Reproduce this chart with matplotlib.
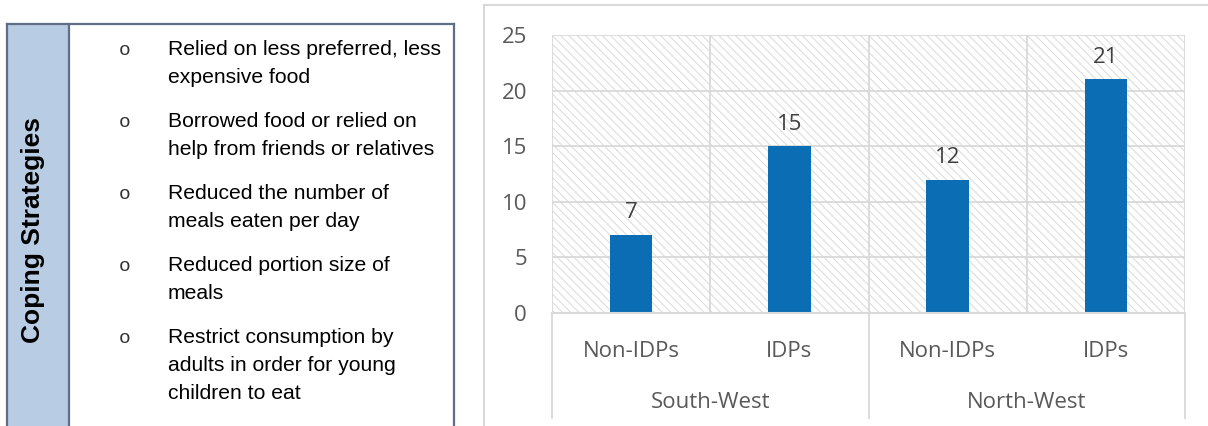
import matplotlib
matplotlib.use("Agg")
import matplotlib.pyplot as plt
from matplotlib.patches import Rectangle
from matplotlib.lines import Line2D
import matplotlib.transforms as mtransforms

# data
groups = ["South-West", "North-West"]
categories = ["Non-IDPs", "IDPs", "Non-IDPs", "IDPs"]
values = [7, 15, 12, 21]
y_ticks = [0, 5, 10, 15, 20, 25]

panel_title = "Coping Strategies"
strategies = [
    ["Relied on less preferred, less", "expensive food"],
    ["Borrowed food or relied on", "help from friends or relatives"],
    ["Reduced the number of", "meals eaten per day"],
    ["Reduced portion size of", "meals"],
    ["Restrict consumption by", "adults in order for young", "children to eat"],
]

W, H = 1208, 426
fig = plt.figure(figsize=(W / 100, H / 100), dpi=100)


def fx(x):
    return x / W


def fy(y):
    return 1 - y / H


# ---- left panel (table-like box) ----
border = "#5f6e84"
fig.add_artist(Rectangle((fx(7), fy(440)), fx(62), (440 - 24) / H,
                         facecolor="#b8cce4", edgecolor="none"))
for (x0, y0, x1, y1) in [(7, 24, 454, 24), (7, 24, 7, 440), (69, 24, 69, 440), (454, 24, 454, 440)]:
    fig.add_artist(Line2D([fx(x0), fx(x1)], [fy(y0), fy(y1)], color=border, lw=1.6))

fig.text(fx(33), fy(230), panel_title, rotation=90, ha="center", va="center",
         fontsize=19, fontweight="bold", family="Liberation Sans", color="black")

y = 55
for item in strategies:
    fig.text(fx(125), fy(y), "o", ha="center", va="baseline", fontsize=14,
             family="Liberation Mono", color="#333333")
    for line in item:
        fig.text(fx(168), fy(y), line, ha="left", va="baseline", fontsize=15.2,
                 family="Liberation Sans", color="black")
        y += 28
    y += 16

# ---- chart frame ----
frame = "#d9d9d9"
fig.add_artist(Line2D([fx(484), fx(1208)], [fy(5), fy(5)], color=frame, lw=1.5))
fig.add_artist(Line2D([fx(484), fx(484)], [fy(5), fy(426)], color=frame, lw=1.5))

# ---- bar chart ----
ax = fig.add_axes([fx(552), fy(313), fx(1185 - 552), (313 - 35) / H])
ax.set_xlim(0, 4)
ax.set_ylim(0, 25)

plt.rcParams["hatch.linewidth"] = 0.7
bg = Rectangle((0, 0), 1, 1, transform=ax.transAxes, facecolor="white",
               edgecolor="#dadada", hatch="\\\\\\\\", lw=0, zorder=0)
ax.add_patch(bg)

for t in y_ticks[1:]:
    ax.axhline(t, color=frame, lw=1.3, zorder=1)
for i in range(5):
    ax.axvline(i, color=frame, lw=1.3, zorder=1)
ax.axhline(0, color=frame, lw=1.5, zorder=3, clip_on=False)

xs = [i + 0.5 for i in range(len(values))]
ax.bar(xs, values, width=0.27, color="#0b6db4", zorder=2)
for x, v in zip(xs, values):
    ax.annotate(str(v), (x, v), xytext=(0, 12), textcoords="offset points",
                ha="center", va="baseline", fontsize=16, family="Open Sans",
                color="#404040")

for s in ax.spines.values():
    s.set_visible(False)
ax.set_xticks([])
ax.set_yticks(y_ticks)
ax.set_yticklabels([str(t) for t in y_ticks], fontsize=16, family="Open Sans",
                   color="#595959")
ax.tick_params(axis="y", length=0, pad=18)

# category labels under the axis
trans = mtransforms.blended_transform_factory(ax.transData, fig.transFigure)
for x, c in zip(xs, categories):
    ax.text(x, fy(357), c, transform=trans, ha="center", va="baseline",
            fontsize=16, family="Open Sans", color="#595959")
for g, name in enumerate(groups):
    ax.text(2 * g + 1, fy(408), name, transform=trans, ha="center", va="baseline",
            fontsize=16, family="Open Sans", color="#595959")
for xv in [0, 2, 4]:
    ax.add_artist(Line2D([xv, xv], [fy(313), fy(418)], transform=trans,
                         color=frame, lw=1.3, clip_on=False))

fig.savefig("out.png", dpi=100)
